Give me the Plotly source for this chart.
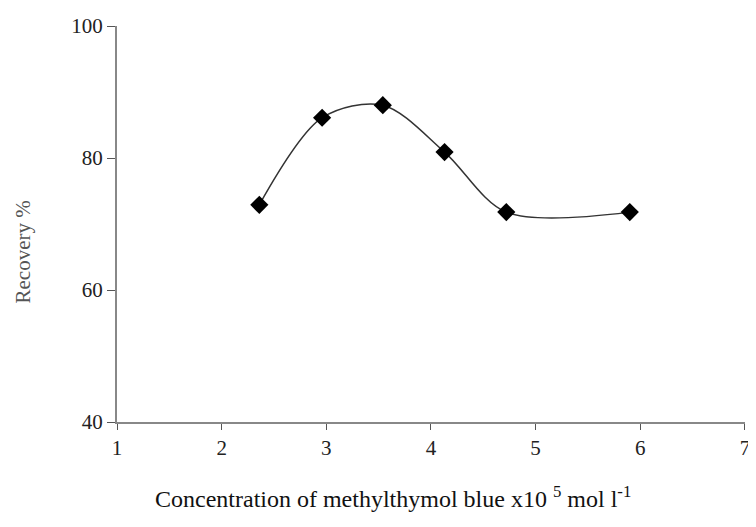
import plotly.graph_objects as go

conc = [2.36, 2.96, 3.54, 4.13, 4.72, 5.90]
recovery = [72.9, 86.1, 88.0, 80.9, 71.8, 71.8]
x_ticks = [1, 2, 3, 4, 5, 6, 7]
y_ticks = [40, 60, 80, 100]
x_title = "Concentration of methylthymol blue x10 <sup>5</sup> mol l<sup>-1</sup>"
y_title = "Recovery %"

fig = go.Figure()
fig.add_trace(go.Scatter(
    x=conc, y=recovery, mode="lines+markers",
    line=dict(shape="spline", smoothing=0.9, color="#333333", width=1.5),
    marker=dict(symbol="diamond", size=14, color="black"),
    showlegend=False,
))

serif = "Liberation Serif, Times New Roman, serif"
fig.update_layout(
    width=748, height=511,
    margin=dict(l=109, r=6, t=15, b=97),
    plot_bgcolor="white", paper_bgcolor="white",
    font=dict(family=serif, size=21, color="#222222"),
)
fig.update_xaxes(
    range=[1, 7.001], tickvals=x_ticks, ticks="outside", ticklen=6, tickcolor="#555555",
    tickfont=dict(size=21),
    showline=True, linecolor="#888888", linewidth=2, showgrid=False, zeroline=False,
)
fig.update_yaxes(
    range=[40, 100], tickvals=y_ticks, ticks="outside", ticklen=8, tickcolor="#555555",
    tickfont=dict(size=21),
    showline=True, linecolor="#888888", linewidth=2, showgrid=False, zeroline=False,
)
fig.add_annotation(
    text=x_title, xref="paper", yref="paper", x=0.44, y=-0.19,
    xanchor="center", yanchor="middle", showarrow=False,
    font=dict(family=serif, size=24, color="#111111"),
)
fig.add_annotation(
    text=y_title, xref="paper", yref="paper", x=-0.15, y=0.43,
    xanchor="center", yanchor="middle", showarrow=False, textangle=-90,
    font=dict(family=serif, size=21, color="#555555"),
)
fig.write_html("out.html")
